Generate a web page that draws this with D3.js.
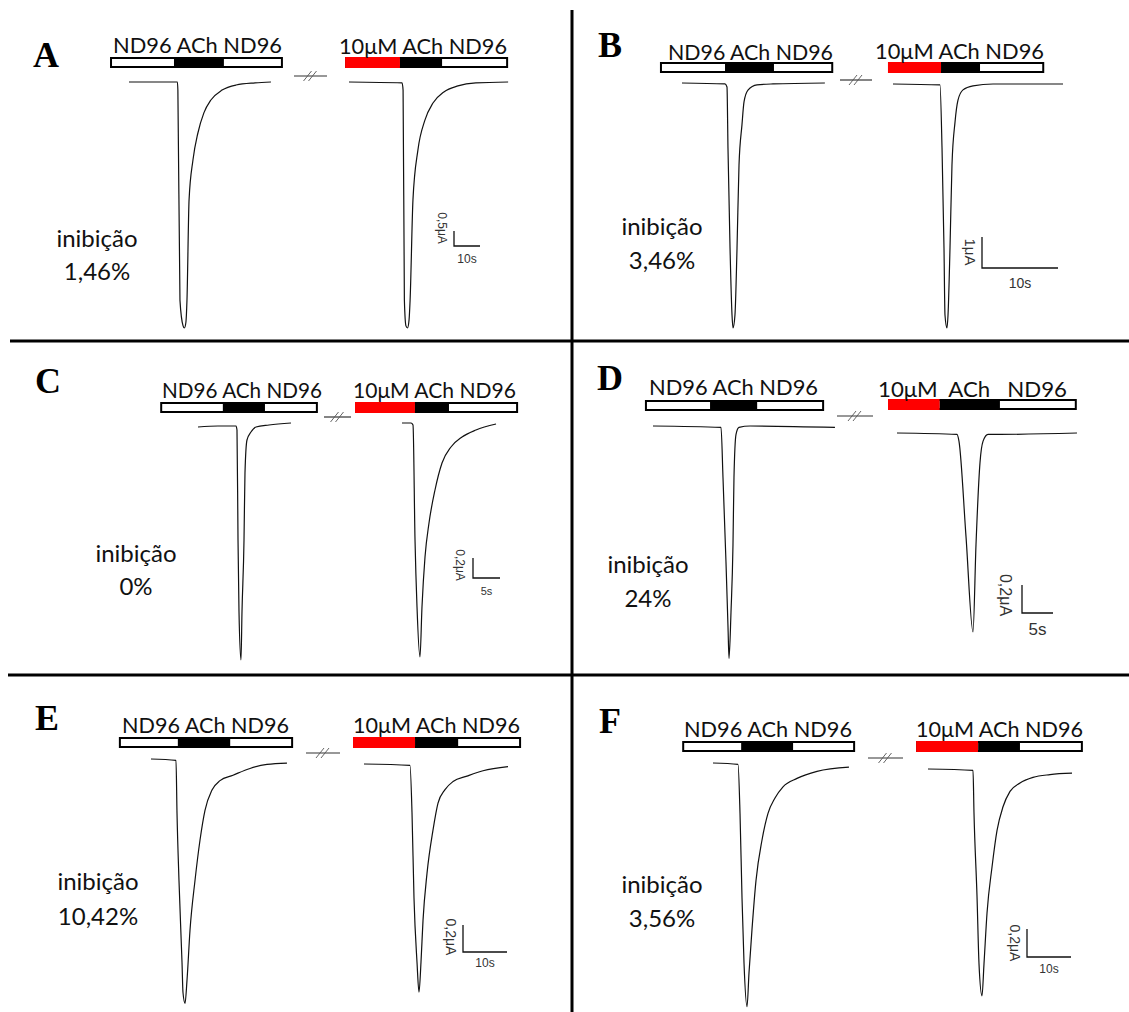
<!DOCTYPE html>
<html>
<head>
<meta charset="utf-8">
<script src="https://cdn.jsdelivr.net/npm/d3@7"></script>
<style>
  body { margin: 0; background: #fff; }
  svg { display: block; }
</style>
</head>
<body>
<script>
// ---- data -------------------------------------------------------------
var panelNames = ["A", "B", "C", "D", "E", "F"];
var inhibition = ["1,46%", "3,46%", "0%", "24%", "10,42%", "3,56%"];
var controlLabel = "ND96 ACh ND96";
var drugLabels = ["10μM ACh ND96", "10μM ACh ND96", "10μM ACh ND96",
                  "10μM  ACh   ND96", "10μM ACh ND96", "10μM ACh ND96"];

// scale bars
var scaleSeconds = [10, 10, 5, 5, 10, 10];
var scaleMicroA = [0.5, 1, 0.2, 0.2, 0.2, 0.2];
var scaleTimeText = ["10s", "10s", "5s", "5s", "10s", "10s"];
var scaleCurrentText = ["0,5μA", "1μA", "0,2μA", "0,2μA", "0,2μA", "0,2μA"];

// perfusion bars, seconds from trace start: [start, ACh on, ACh off, end]
var controlBars = [
  [-7.3, 17.3, 36.5, 59.2], [-2.9, 5.66, 12.1, 19.9], [-7.0, 4.6, 12.4, 22.2],
  [-1.3, 9.2, 16.8, 27.6], [-7.3, 6.1, 18.0, 32.3], [-7.0, 6.4, 18.2, 32.3]
];
var drugBars = [
  [-1.5, 19.6, 35.8, 61.2], [-0.66, 6.32, 11.45, 19.9], [-8.7, 2.4, 8.7, 21.5],
  [-1.45, 6.9, 16.6, 29.0], [-2.5, 11.6, 21.4, 35.7], [-2.7, 11.4, 20.9, 35.2]
];

// current traces: [time (s), current (μA)]
var controlTraces = [
  [[0,0],[18.6,0],[18.8,-0.27],[19.6,-7.27],[20.8,-8.13],[21.3,-8.2],[21.9,-8.0],[22.3,-7.27],[23.1,-3.93],[24.6,-2.6],[26.5,-1.7],[28.8,-1.03],[31.5,-0.6],[35.8,-0.27],[41.2,-0.1],[48.5,-0.03],[54.6,0]],
  [[0,0],[5.66,-0.03],[5.92,-0.13],[6.05,-2.1],[6.32,-5.32],[6.58,-7.48],[6.71,-7.9],[6.97,-7.48],[7.24,-5.32],[7.5,-2.65],[7.89,-1.35],[8.16,-0.61],[8.68,-0.23],[9.87,-0.06],[11.97,-0.03],[18.8,0]],
  [[0,0],[3.7,0.01],[7.04,0.01],[7.22,-0.03],[7.41,-1.13],[7.59,-1.84],[7.96,-2.33],[8.15,-1.84],[8.52,-1.13],[8.7,-0.46],[9.07,-0.13],[9.81,-0.05],[10.74,0],[13.15,0.02],[17.22,0.04]],
  [[0,0],[10.97,-0.01],[11.29,-0.37],[11.77,-0.97],[12.1,-1.44],[12.26,-1.66],[12.58,-1.33],[12.9,-0.85],[13.06,-0.37],[13.39,-0.06],[13.87,-0.01],[15.65,0],[29.35,-0.01]],
  [[0,0],[5.68,-0.01],[5.91,-0.4],[6.36,-0.9],[7.05,-1.51],[7.27,-1.73],[7.73,-1.81],[8.18,-1.64],[8.86,-1.27],[10.0,-0.9],[11.14,-0.6],[12.27,-0.38],[13.86,-0.23],[15.68,-0.16],[18.64,-0.12],[22.5,-0.07],[26.36,-0.04],[30.9,-0.03]],
  [[0,0],[5.68,-0.01],[6.14,-0.36],[6.59,-0.96],[7.05,-1.43],[7.73,-1.74],[8.18,-1.5],[8.86,-1.19],[9.77,-0.84],[11.14,-0.55],[12.5,-0.36],[14.09,-0.25],[15.91,-0.17],[19.09,-0.11],[23.64,-0.06],[30.9,-0.03]]
];
var drugTraces = [
  [[0,0],[20.4,-0.03],[20.8,-0.27],[21.3,-7.27],[21.9,-8.13],[22.5,-8.2],[23.1,-7.93],[23.5,-7.27],[24.6,-3.93],[26.5,-2.27],[29.2,-1.27],[32.3,-0.7],[36.5,-0.33],[41.9,-0.13],[48.8,-0.03],[61.2,0]],
  [[0,0],[6.18,-0.03],[6.45,-2.06],[6.71,-5.29],[6.84,-7.45],[7.1,-7.87],[7.24,-7.45],[7.5,-5.29],[7.76,-2.61],[8.16,-1.23],[8.55,-0.52],[9.21,-0.19],[10.53,-0.06],[13.16,0],[22.37,0]],
  [[0,0],[1.67,0],[2.04,-0.02],[2.41,-1.17],[2.78,-1.84],[3.33,-2.34],[3.7,-1.84],[4.26,-1.34],[5.0,-1.0],[6.11,-0.67],[7.41,-0.4],[9.07,-0.24],[11.11,-0.14],[13.7,-0.07],[17.41,-0.01]],
  [[0,0],[9.68,-0.01],[10.0,-0.06],[11.13,-0.74],[12.26,-1.42],[12.74,-0.8],[13.39,-0.21],[13.87,-0.06],[14.68,-0.01],[16.61,-0.01],[29.03,0]],
  [[0,0],[10.45,-0.01],[10.91,-0.36],[11.36,-0.99],[12.05,-1.47],[12.5,-1.69],[12.95,-1.47],[13.41,-1.16],[14.32,-0.81],[15.68,-0.49],[16.82,-0.29],[18.41,-0.19],[20.23,-0.13],[23.41,-0.09],[27.05,-0.05],[32.73,-0.02]],
  [[0,0],[10.23,-0.01],[10.45,-0.31],[11.14,-0.91],[11.59,-1.39],[12.27,-1.62],[12.73,-1.39],[13.41,-1.03],[14.55,-0.7],[15.68,-0.44],[17.05,-0.27],[18.64,-0.16],[20.91,-0.1],[23.86,-0.06],[27.73,-0.04],[32.73,-0.03]]
];

// ---- layout (pixels) --------------------------------------------------
var layout = [
  {pps: 2.6, ppu: 30,  c: [129, 82],  d: [349, 82],  barY: [57, 57],   text: [[113, 53, 169], [339, 54, 168]], brk: [294, 327, 76],  label: [33, 67],  inib: [97, 247, 280],  sb: [454, 246],  sbCur: [438, 228, 12],  sbTime: [17, 12]},
  {pps: 7.6, ppu: 31,  c: [682, 83],  d: [893, 84],  barY: [62, 62],   text: [[668, 60, 165], [875, 59, 169]], brk: [840, 872, 80],  label: [598, 57], inib: [662, 235, 269], sb: [982, 268],  sbCur: [965, 252, 15],  sbTime: [20, 14]},
  {pps: 5.4, ppu: 100, c: [198, 427], d: [402, 423], barY: [402, 402], text: [[162, 398, 160], [353, 398, 163]], brk: [324, 351, 417], label: [35, 393], inib: [136, 562, 595], sb: [473, 578],  sbCur: [456, 565, 12],  sbTime: [17, 11]},
  {pps: 6.2, ppu: 140, c: [653, 426], d: [897, 433], barY: [400, 399], text: [[649, 395, 169], [878, 397, 189]], brk: [837, 873, 416], label: [597, 390], inib: [648, 573, 607], sb: [1022, 613], sbCur: [1000, 595, 16], sbTime: [22, 17]},
  {pps: 4.4, ppu: 135, c: [151, 759], d: [364, 764], barY: [737, 737], text: [[122, 733, 167], [353, 733, 167]], brk: [306, 340, 753], label: [35, 730], inib: [98, 890, 925],  sb: [463, 952],  sbCur: [446, 937, 14],  sbTime: [15, 12]},
  {pps: 4.4, ppu: 140, c: [713, 763], d: [928, 769], barY: [741, 741], text: [[684, 737, 168], [916, 737, 167]], brk: [868, 903, 758], label: [599, 733], inib: [662, 893, 927], sb: [1027, 957], sbCur: [1010, 943, 14], sbTime: [16, 12]}
];
var BAR_H = 11;
var textFont = "Lato, 'Open Sans', sans-serif";
var smallFont = "'Liberation Sans', Arial, sans-serif";

var svg = d3.select("body").append("svg")
            .attr("width", 1129)
            .attr("height", 1012);

// panel dividers
svg.append("line").attr("x1", 572).attr("x2", 572).attr("y1", 10).attr("y2", 1012)
   .attr("stroke", "#000").attr("stroke-width", 3);
svg.append("line").attr("x1", 10).attr("x2", 1129).attr("y1", 341).attr("y2", 341)
   .attr("stroke", "#000").attr("stroke-width", 3);
svg.append("line").attr("x1", 8).attr("x2", 1129).attr("y1", 675).attr("y2", 675)
   .attr("stroke", "#000").attr("stroke-width", 3);

panelNames.forEach(function(name, i) {
  var L = layout[i];
  var g = svg.append("g");

  g.append("text")
   .attr("x", L.label[0]).attr("y", L.label[1])
   .attr("font-family", "'Liberation Serif', 'Times New Roman', serif")
   .attr("font-weight", "bold")
   .attr("font-size", 36)
   .text(name);

  var runs = [
    {origin: L.c, trace: controlTraces[i], bar: controlBars[i], colors: ["none", "#000", "none"], label: controlLabel, barY: L.barY[0], txt: L.text[0]},
    {origin: L.d, trace: drugTraces[i], bar: drugBars[i], colors: ["#ff0000", "#000", "none"], label: drugLabels[i], barY: L.barY[1], txt: L.text[1]}
  ];

  var lastScales;
  runs.forEach(function(r) {
    var x = d3.scaleLinear().domain([0, 1]).range([r.origin[0], r.origin[0] + L.pps]);
    var y = d3.scaleLinear().domain([0, -1]).range([r.origin[1], r.origin[1] + L.ppu]);
    lastScales = {x: x, y: y};

    var line = d3.line()
                 .x(function(d) { return x(d[0]); })
                 .y(function(d) { return y(d[1]); })
                 .curve(d3.curveMonotoneX);
    g.append("path")
     .datum(r.trace)
     .attr("d", line)
     .attr("fill", "none")
     .attr("stroke", "#111")
     .attr("stroke-width", 1.2);

    // perfusion bar
    var b = r.bar;
    g.append("rect")
     .attr("x", x(b[0]) + 1).attr("y", r.barY + 1)
     .attr("width", x(b[3]) - x(b[0]) - 2).attr("height", BAR_H - 2)
     .attr("fill", "#fff").attr("stroke", "#000").attr("stroke-width", 2);
    var segs = [[b[0], b[1]], [b[1], b[2]], [b[2], b[3]]];
    g.selectAll(null)
     .data(segs.map(function(s, j) { return {s: s, c: r.colors[j]}; })
               .filter(function(d) { return d.c !== "none"; }))
     .enter()
     .append("rect")
     .attr("x", function(d) { return x(d.s[0]); })
     .attr("y", r.barY)
     .attr("width", function(d) { return x(d.s[1]) - x(d.s[0]); })
     .attr("height", BAR_H)
     .attr("fill", function(d) { return d.c; });

    g.append("text")
     .attr("x", r.txt[0]).attr("y", r.txt[1])
     .attr("textLength", r.txt[2])
     .attr("lengthAdjust", "spacingAndGlyphs")
     .style("white-space", "pre")
     .attr("font-family", textFont)
     .attr("font-size", 21)
     .attr("fill", "#111")
     .text(r.label);
  });

  // break mark
  var bk = L.brk, cx = (bk[0] + bk[1]) / 2;
  g.append("line").attr("x1", bk[0]).attr("x2", bk[1]).attr("y1", bk[2]).attr("y2", bk[2])
   .attr("stroke", "#333").attr("stroke-width", 1.2);
  [-3, 2].forEach(function(o) {
    g.append("line")
     .attr("x1", cx + o - 4).attr("y1", bk[2] + 5)
     .attr("x2", cx + o + 4).attr("y2", bk[2] - 5)
     .attr("stroke", "#555").attr("stroke-width", 0.9);
  });

  // scale bar, drawn with the second trace's scales
  var sx = lastScales.x, sy = lastScales.y;
  var x0 = L.sb[0], y0 = L.sb[1];
  var w = sx(scaleSeconds[i]) - sx(0);
  var h = sy(-scaleMicroA[i]) - sy(0);
  g.append("path")
   .attr("d", "M" + x0 + "," + (y0 - h) + "V" + y0 + "H" + (x0 + w))
   .attr("fill", "none").attr("stroke", "#111").attr("stroke-width", 1.3);
  g.append("text")
   .attr("x", x0 + w / 2).attr("y", y0 + L.sbTime[0])
   .attr("text-anchor", "middle")
   .attr("font-family", smallFont)
   .attr("font-size", L.sbTime[1])
   .attr("fill", "#333")
   .text(scaleTimeText[i]);
  g.append("text")
   .attr("transform", "translate(" + L.sbCur[0] + "," + L.sbCur[1] + ") rotate(90)")
   .attr("text-anchor", "middle")
   .attr("font-family", smallFont)
   .attr("font-size", L.sbCur[2])
   .attr("fill", "#333")
   .text(scaleCurrentText[i]);

  // inhibition text
  g.append("text")
   .attr("x", L.inib[0]).attr("y", L.inib[1])
   .attr("text-anchor", "middle")
   .attr("font-family", textFont).attr("font-size", 24).attr("fill", "#111")
   .text("inibição");
  g.append("text")
   .attr("x", L.inib[0]).attr("y", L.inib[2])
   .attr("text-anchor", "middle")
   .attr("font-family", textFont).attr("font-size", 24).attr("fill", "#111")
   .text(inhibition[i]);
});
</script>
</body>
</html>
